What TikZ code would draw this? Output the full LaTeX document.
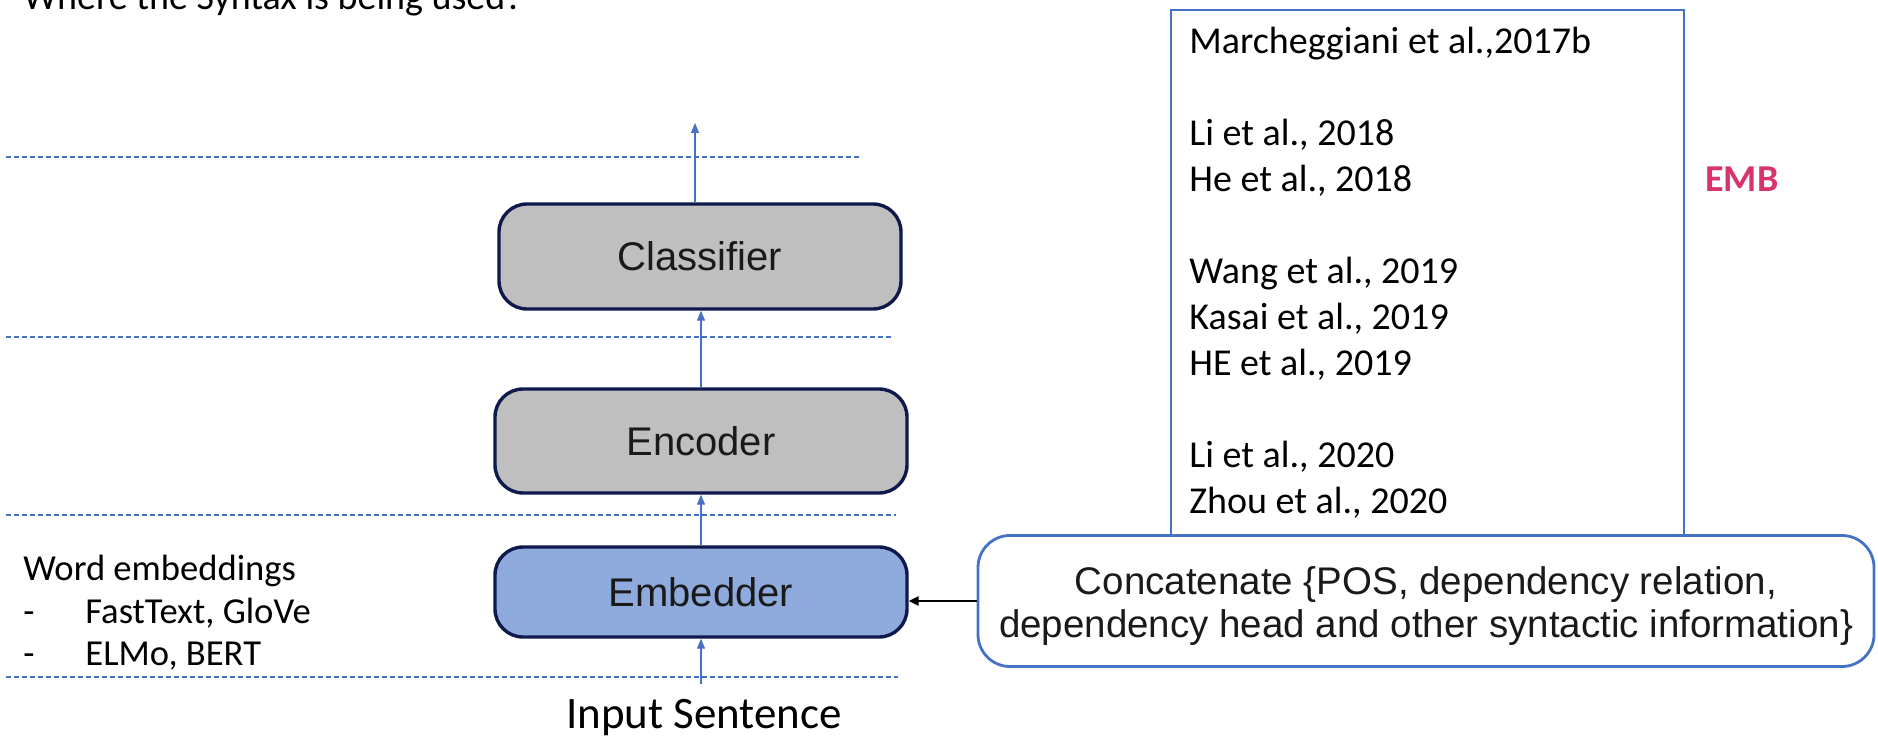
\documentclass[tikz,border=0pt]{standalone}
\usepackage{fontspec}
\setmainfont{Carlito}
\newfontfamily\arialfont{Liberation Sans}
\usetikzlibrary{arrows.meta}
\definecolor{navy}{HTML}{0E1A4B}
\definecolor{boxgray}{HTML}{BFBFBF}
\definecolor{embblue}{HTML}{8FAADC}
\definecolor{accent}{HTML}{4472C4}
\definecolor{embpink}{HTML}{D9336E}
\definecolor{ink}{HTML}{1A1A1A}
\begin{document}
\begin{tikzpicture}[x=0.5pt,y=-0.5pt,
  layerbox/.style={draw=navy,line width=1.7pt,rounded corners=14pt,inner sep=0pt,
    text=ink,font=\arialfont\fontsize{20pt}{24pt}\selectfont},
  flow/.style={draw=accent,line width=0.6pt,-{Triangle[length=5pt,width=4pt]}},
  sep/.style={draw=accent,line width=0.6pt,dash pattern=on 2.5pt off 1.5pt},
  reftext/.style={anchor=base west,inner sep=0pt,text=black,font=\fontsize{19pt}{23pt}\selectfont},
  sidetext/.style={anchor=base west,inner sep=0pt,text=black,font=\fontsize{18.3pt}{22pt}\selectfont}]
\useasboundingbox (0,0) rectangle (1878,737);
% title
\node[anchor=base west,inner sep=0pt,font=\fontsize{19pt}{23pt}\selectfont] (title) at (23,10) {Where the Syntax is being used?};
% dashed separators
\draw[sep] (6,157) -- (860,157);
\draw[sep] (6,337) -- (892,337);
\draw[sep] (6,515) -- (896,515);
\draw[sep] (6,677) -- (898,677);
% layer boxes
\node[layerbox,fill=boxgray,minimum width=201pt,minimum height=52.5pt] (cls) at (700,256.5) {Classifier};
\node[layerbox,fill=boxgray,minimum width=206pt,minimum height=52pt] (enc) at (701,441) {Encoder};
\node[layerbox,fill=embblue,minimum width=206pt,minimum height=45pt] (emb) at (701,592) {Embedder};
% input
\node[anchor=base,inner sep=0pt,font=\fontsize{22.5pt}{26pt}\selectfont] (inp) at (704,728) {Input Sentence};
\coordinate (inpend) at (701,684);
\coordinate (outend) at (695,123);
\draw[flow] (inpend) -- (emb.south -| inpend);
\draw[flow] (emb.north -| inpend) -- (enc.south -| inpend);
\draw[flow] (enc.north -| inpend) -- (cls.south -| inpend);
\draw[flow] (cls.north -| outend) -- (outend);
% word embeddings
\node[sidetext] (we) at (23,580) {Word embeddings};
\node[sidetext] (d1) at (23,623) {-};
\node[sidetext] (w1) at (85,623) {FastText, GloVe};
\node[sidetext] (d2) at (23,665) {-};
\node[sidetext] (w2) at (85,665) {ELMo, BERT};
% references box
\draw[accent,line width=0.7pt] (1171,10) rectangle (1684,560);
\node[reftext] (r1) at (1189,54) {Marcheggiani et al.,2017b};
\node[reftext] (r2) at (1189,145.8) {Li et al., 2018};
\node[reftext] (r3) at (1189,191.7) {He et al., 2018};
\node[reftext] (r4) at (1189,283.5) {Wang et al., 2019};
\node[reftext] (r5) at (1189,329.4) {Kasai et al., 2019};
\node[reftext] (r6) at (1189,375.3) {HE et al., 2019};
\node[reftext] (r7) at (1189,467.1) {Li et al., 2020};
\node[reftext] (r8) at (1189,513) {Zhou et al., 2020};
\node[anchor=base west,inner sep=0pt,text=embpink,font=\bfseries\fontsize{19pt}{23pt}\selectfont] (embl) at (1705,192) {EMB};
% concat box
\node[draw=accent,line width=1.4pt,fill=white,rounded corners=16pt,minimum width=448pt,minimum height=65.5pt,
  inner sep=0pt] (con) at (1426,601) {};
\node[inner sep=0pt,align=center,text=ink,font=\arialfont\fontsize{19.25pt}{21.5pt}\selectfont] (contxt)
  at ([yshift=-2.5pt]con.center)
  {Concatenate \{POS, dependency relation,\\dependency head and other syntactic information\}};
\draw[black,line width=1.2pt,-{Triangle[length=5pt,width=4.5pt]}] (con.west) -- (con.west -| emb.east);
\end{tikzpicture}
\end{document}
